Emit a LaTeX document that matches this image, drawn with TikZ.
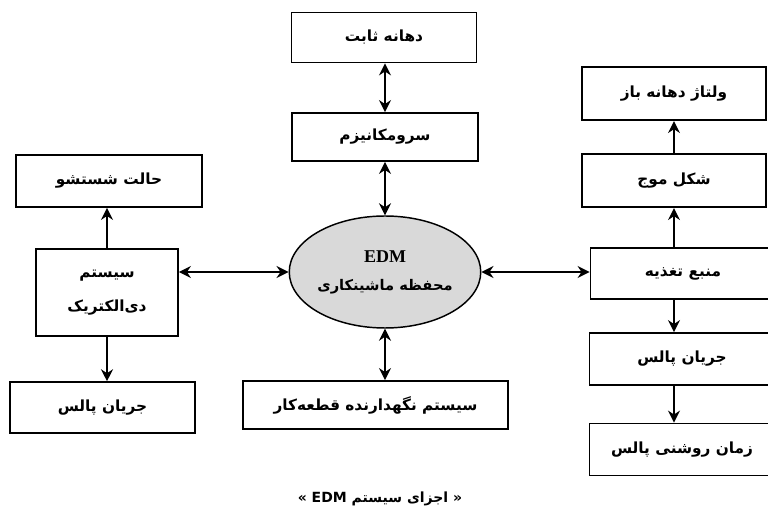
\documentclass[tikz,border=0pt]{standalone}
\usepackage{fontspec}
\setmainfont{Liberation Serif}
\newfontfamily\farsifont[Script=Arabic]{DejaVu Sans}
\TeXXeTstate=1
\usepackage{xcolor}
\usetikzlibrary{arrows.meta,positioning,shapes.geometric}
\definecolor{chamber}{HTML}{D9D9D9}
\newcommand{\fatext}[1]{\beginR #1\endR}
\tikzset{
  partbox/.style={
    rectangle, draw=black, line width=1.4pt, fill=white,
    minimum width=#1*0.75pt, minimum height=37.5pt,
    font=\farsifont\bfseries\fontsize{11.5}{14}\selectfont, align=center,
    inner sep=2pt
  },
  partbox/.default=185,
  chamberbox/.style={
    ellipse, draw=black, line width=1.1pt, fill=chamber,
    minimum width=138pt, minimum height=84pt,
    align=center, inner sep=0pt
  },
  linkarrow/.style={
    -{Stealth[length=9pt, width=9pt, inset=3pt]}, line width=1.1pt
  },
  twoway/.style={
    {Stealth[length=9pt, width=9pt, inset=3pt]}-{Stealth[length=9pt, width=9pt, inset=3pt]},
    line width=1.1pt
  },
  captionnode/.style={
    font=\farsifont\bfseries\fontsize{10.5}{13}\selectfont
  },
}

\begin{document}
\begin{tikzpicture}[x=0.75pt, y=-0.75pt]
  \useasboundingbox (0,0) rectangle (768,509);
  % Machining chamber
  \node[chamberbox] (edm) at (385,272) {{\bfseries\fontsize{13.5}{15}\selectfont EDM}\\[9pt]{\farsifont\bfseries\fontsize{11}{13}\selectfont\fatext{محفظه ماشینکاری}}};
  % Centre column
  \node[partbox] (gap) at (384,37.5) {\fatext{دهانه ثابت}};
  \node[partbox=186, minimum height=36pt] (servo) at (385,137) {\fatext{سرومکانیزم}};
  \node[partbox=265, minimum height=36pt] (holder) at (375.5,405) {\fatext{سیستم نگهدارنده قطعه‌کار}};
  \draw[twoway] (gap.south -| servo) -- (servo);
  \draw[twoway] (servo.south) -- (edm.north);
  \draw[twoway] (edm.south) -- (holder.north -| edm);
  % Left column
  \node[partbox=186, minimum height=39pt] (flush) at (109,181) {\fatext{حالت شستشو}};
  \node[partbox=142, minimum height=65pt] (dielec) at (107,292.5) {\fatext{سیستم}\\[12pt]\fatext{دی‌الکتریک}};
  \node[partbox, minimum height=38pt] (pulseL) at (102.5,407.5) {\fatext{جریان پالس}};
  \draw[twoway] (dielec.east |- edm) -- (edm.west);
  \draw[linkarrow] (dielec.north) -- (dielec.north |- flush.south);
  \draw[linkarrow] (dielec.south) -- (dielec.south |- pulseL.north);
  % Right column
  \node[partbox=184, minimum height=40pt] (ocv) at (674,93.5) {\fatext{ولتاژ دهانه باز}};
  \node[partbox=184, minimum height=40pt] (wave) at (674,180.5) {\fatext{شکل موج}};
  \node[partbox, minimum height=38pt] (power) at (683,273.5) {\fatext{منبع تغذیه}};
  \node[partbox, minimum height=39pt] (pulseR) at (682,359) {\fatext{جریان پالس}};
  \node[partbox, minimum height=39pt] (ontime) at (682,449.5) {\fatext{زمان روشنی پالس}};
  \draw[twoway] (edm.east) -- (power.west |- edm);
  \draw[linkarrow] (power.north -| wave) -- (wave.south);
  \draw[linkarrow] (wave.north) -- (ocv.south);
  \draw[linkarrow] (power.south -| wave) -- (pulseR.north -| wave);
  \draw[linkarrow] (pulseR.south -| wave) -- (ontime.north -| wave);
  % Caption
  \node[captionnode] (caption) at (380,499) {\fatext{« اجزای سیستم \beginL EDM\endL{} »}};
\end{tikzpicture}
\end{document}
